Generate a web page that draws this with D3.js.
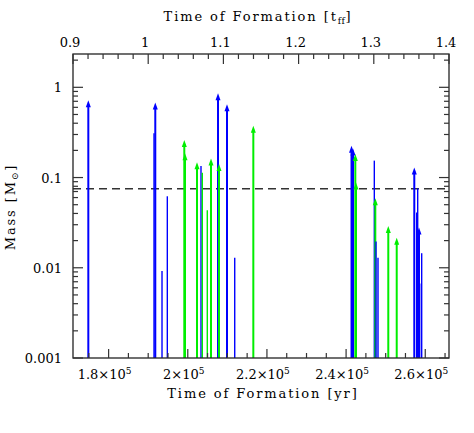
<!DOCTYPE html>
<html><head><meta charset="utf-8">
<script src="https://cdn.jsdelivr.net/npm/d3@7"></script>
<style>
body{margin:0;background:#fff;}
text{font-family:"DejaVu Serif","Liberation Serif",serif;fill:#000;}
</style></head>
<body><svg id="c" width="474" height="433"></svg>
<script>
// formation time [yr]
const formationTime = [174870,191470,191790,193490,194830,199120,199300,202330,203340,203670,204930,205870,207640,207890,209910,211860,216560,241370,241750,242330,242500,247130,247380,247560,248060,250660,252790,257230,257840,258090,258420,258600,259100];
// final / current mass [Msun]
const mass = [0.72,0.31,0.68,0.0092,0.062,0.26,0.186,0.148,0.134,0.113,0.0434,0.163,0.86,0.141,0.65,0.0129,0.376,0.225,0.21,0.182,0.088,0.154,0.059,0.0195,0.0129,0.029,0.0215,0.129,0.041,0.076,0.028,0.0067,0.0145];
// group: b = blue, g = green
const group = ["b","b","b","b","b","g","g","g","b","g","g","g","b","g","b","b","g","b","b","g","g","b","g","b","b","g","g","b","b","b","b","b","b"];
// still accreting (arrow)
const accreting = [1,0,1,0,0,1,1,1,0,0,0,1,1,1,1,0,1,1,1,1,1,0,1,0,0,1,1,1,0,0,1,0,0];
const bdLimit = 0.075;
const tff = 1.9e5;
const bottomTicks = [180000,200000,220000,240000,260000];
const bottomTickMantissa = ["1.8","2","2.2","2.4","2.6"];
const topTicks = [0.9,1.0,1.1,1.2,1.3,1.4];
const topTickLabels = ["0.9","1","1.1","1.2","1.3","1.4"];
const yTicks = [1,0.1,0.01,0.001];
const yTickLabels = ["1","0.1","0.01","0.001"];

const L=73,R=449,T=54,B=358;
const svg = d3.select("#c");
const x = d3.scaleLinear().domain([0.9*tff,1.4*tff]).range([L,R]);
const xt = d3.scaleLinear().domain([0.9,1.4]).range([L,R]);
const y = d3.scaleLog().domain([0.001,2.34]).range([B,T]);

const colors = {b:"#0000ff", g:"#00ee00"};
const data = formationTime.map((t,i)=>({t, m:mass[i], g:group[i], a:accreting[i]}));

// dashed line
svg.append("line").attr("x1",L).attr("x2",R).attr("y1",y(bdLimit)).attr("y2",y(bdLimit))
  .attr("stroke","#333").attr("stroke-width",1.4).attr("stroke-dasharray","8,5");

// lines
const gL = svg.append("g");
data.forEach(d=>{
  const xx = x(d.t), yy = y(d.m);
  const c = colors[d.g];
  gL.append("line").attr("x1",xx).attr("x2",xx).attr("y1",B).attr("y2",d.a? yy+4: yy)
    .attr("stroke",c).attr("stroke-width",d.a?2:1.4);
  if(d.a){
    gL.append("path").attr("d",`M${xx},${yy} L${xx-2.5},${yy+7} L${xx+2.5},${yy+7} Z`).attr("fill",c);
  }
});

// frame
svg.append("rect").attr("x",L).attr("y",T).attr("width",R-L).attr("height",B-T)
  .attr("fill","none").attr("stroke","#222").attr("stroke-width",1.3);

const tk = svg.append("g").attr("stroke","#333").attr("stroke-width",1.2);
// bottom ticks (every 5000 yr)
d3.range(175000, 266001, 5000).forEach(t=>{
  const major = t%20000===0;
  tk.append("line").attr("x1",x(t)).attr("x2",x(t)).attr("y1",B).attr("y2",B-(major?9:5));
});
// top ticks (every 0.02 tff)
d3.range(0,26).forEach(k=>{
  const v = 0.9+k*0.02;
  const major = k%5===0;
  tk.append("line").attr("x1",xt(v)).attr("x2",xt(v)).attr("y1",T).attr("y2",T+(major?10:5));
});
// y ticks (left & right)
[-3,-2,-1,0].forEach(e=>{
  for(let k=1;k<=9;k++){
    const v = k*Math.pow(10,e);
    if(v>2.34) continue;
    const len = k===1?10:5;
    tk.append("line").attr("x1",L).attr("x2",L+len).attr("y1",y(v)).attr("y2",y(v));
    tk.append("line").attr("x1",R).attr("x2",R-len).attr("y1",y(v)).attr("y2",y(v));
  }
});

// labels
const fs = 13;
bottomTicks.forEach((t,i)=>{
  const tx = svg.append("text").attr("x",x(t)-4).attr("y",379).attr("text-anchor","middle").attr("font-size",fs);
  tx.append("tspan").text(bottomTickMantissa[i]+"×10");
  tx.append("tspan").attr("font-size",9).attr("dy",-5).text("5");
});
topTicks.forEach((v,i)=>{
  svg.append("text").attr("x",xt(v)-3).attr("y",47).attr("text-anchor","middle").attr("font-size",fs).text(topTickLabels[i]);
});
yTicks.forEach((v,i)=>{
  svg.append("text").attr("x",62).attr("y",y(v)+5).attr("text-anchor","end").attr("font-size",fs).text(yTickLabels[i]);
});
svg.append("text").attr("x",263).attr("y",398).attr("text-anchor","middle").attr("font-size",fs)
  .attr("letter-spacing",1.9).text("Time of Formation [yr]");
const tt = svg.append("text").attr("x",258).attr("y",21).attr("text-anchor","middle").attr("font-size",fs).attr("letter-spacing",1.9);
tt.append("tspan").text("Time of Formation [t");
tt.append("tspan").attr("font-size",9).attr("letter-spacing",0.5).attr("dy",3).text("ff");
tt.append("tspan").attr("dy",-3).text("]");
const yl = svg.append("text").attr("transform","translate(15,207) rotate(-90)").attr("text-anchor","middle").attr("font-size",fs).attr("letter-spacing",1.9);
yl.append("tspan").text("Mass [M");
yl.append("tspan").attr("font-size",9).attr("dy",3).text("⊙");
yl.append("tspan").attr("dy",-3).text("]");
</script></body></html>
